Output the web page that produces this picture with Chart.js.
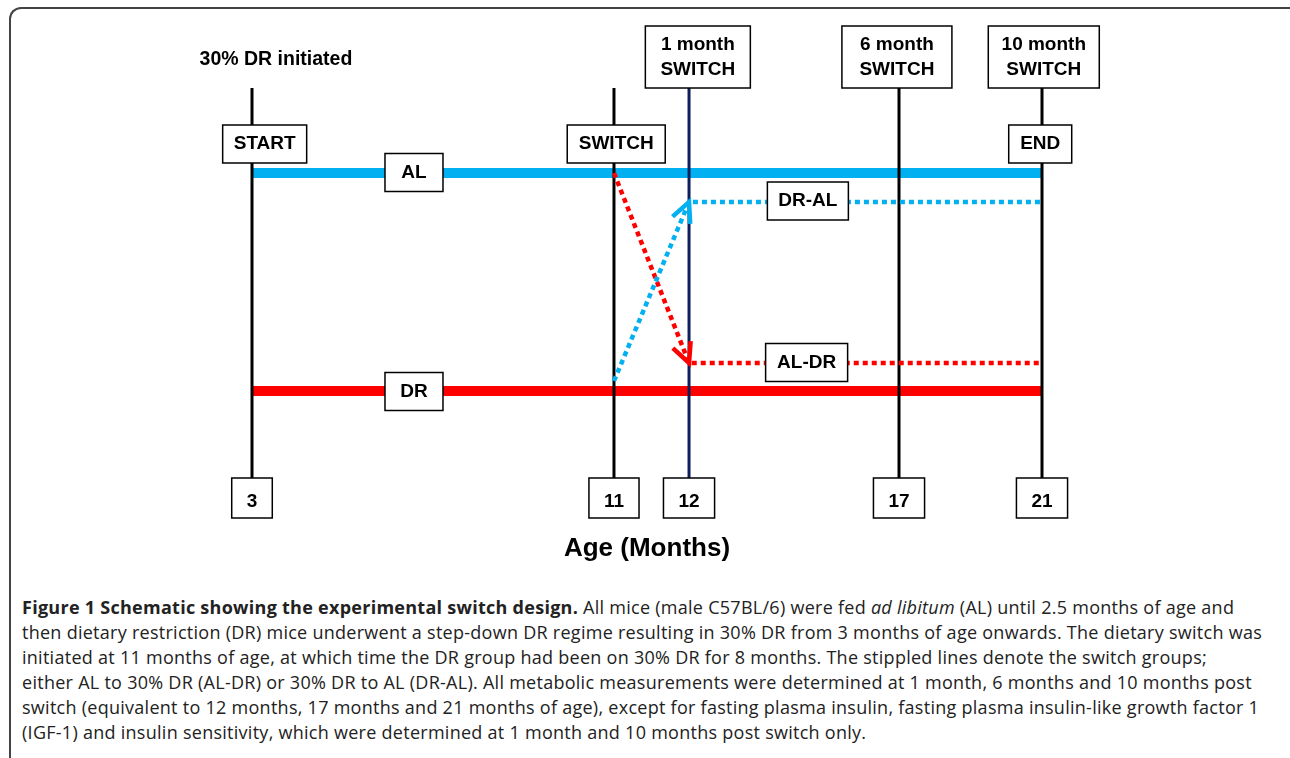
<!DOCTYPE html>
<html>
<head>
<meta charset="utf-8">
<script src="https://cdn.jsdelivr.net/npm/chart.js@4.4.1/dist/chart.umd.min.js"></script>
<style>
  body { margin:0; background:#fff; width:1290px; height:758px; overflow:hidden; position:relative; }
  #frame { position:absolute; left:9px; top:7px; width:1300px; height:800px; border-top:2px solid #444; border-left:2px solid #444; border-top-left-radius:12px; }
  #chart { position:absolute; left:0; top:0; }
  #caption { position:absolute; left:22px; top:595px; font-family:"Open Sans", sans-serif; font-size:18px; letter-spacing:0.27px; line-height:25px; color:#222; white-space:pre; }
</style>
</head>
<body>
<div id="frame"></div>
<canvas id="chart" width="1290" height="580"></canvas>
<div id="caption"><b>Figure 1 Schematic showing the experimental switch design.</b> All mice (male C57BL/6) were fed <i>ad libitum</i> (AL) until 2.5 months of age and
then dietary restriction (DR) mice underwent a step-down DR regime resulting in 30% DR from 3 months of age onwards. The dietary switch was
initiated at 11 months of age, at which time the DR group had been on 30% DR for 8 months. The stippled lines denote the switch groups;
either AL to 30% DR (AL-DR) or 30% DR to AL (DR-AL). All metabolic measurements were determined at 1 month, 6 months and 10 months post
switch (equivalent to 12 months, 17 months and 21 months of age), except for fasting plasma insulin, fasting plasma insulin-like growth factor 1
(IGF-1) and insulin sensitivity, which were determined at 1 month and 10 months post switch only.</div>
<script>
// milestone ages (months)
const ages = [3, 11, 12, 17, 21];
const ageLabels = ['3', '11', '12', '17', '21'];
const ageColors = ['#000', '#000', '#0c1f5a', '#000', '#000'];

// groups: ages and diagram level
const alAge = [3, 21];        const alLevel = [30.5, 30.5];
const drAge = [3, 21];        const drLevel = [8.7, 8.7];
const dralAge = [11, 12, 21]; const dralLevel = [9.7, 27.6, 27.6];
const aldrAge = [11, 12, 21]; const aldrLevel = [30.5, 11.5, 11.5];

// labelled boxes
const boxes = [
  { text: ['START'], x: 3.28, y: 33.4, w: 84 },
  { text: ['SWITCH'], x: 11.03, y: 33.4, w: 98 },
  { text: ['END'], x: 20.95, y: 33.4, w: 63 },
  { text: ['AL'], x: 6.58, y: 30.55, w: 58 },
  { text: ['DR'], x: 6.58, y: 8.65, w: 58 },
  { text: ['DR-AL'], x: 14.83, y: 27.7, w: 81 },
  { text: ['AL-DR'], x: 14.8, y: 11.55, w: 82 },
  { text: ['1 month', 'SWITCH'], x: 12.21, y: 42.1, w: 105 },
  { text: ['6 month', 'SWITCH'], x: 16.95, y: 42.1, w: 110 },
  { text: ['10 month', 'SWITCH'], x: 21.05, y: 42.1, w: 111 }
];

// schematic time axis: not to scale, piecewise between the milestones
class StageScale extends Chart.LinearScale {
  getPixelForValue(value) {
    const k = this.options.knots;
    let i = 0;
    while (i < k.length - 2 && value > k[i + 1][0]) i++;
    const f = k[i][1] + (value - k[i][0]) / (k[i + 1][0] - k[i][0]) * (k[i + 1][1] - k[i][1]);
    return this.getPixelForDecimal(f);
  }
}
StageScale.id = 'stage';
StageScale.defaults = Chart.LinearScale.defaults;
Chart.register(StageScale);

Chart.defaults.font.family = '"Liberation Sans", Arial, sans-serif';
const pts = (xs, ys) => xs.map((x, i) => ({ x: x, y: ys[i] }));

const datasets = [];
datasets.push({ data: pts(alAge, alLevel), borderColor: '#00b0f0', borderWidth: 10, order: 3 });
datasets.push({ data: pts(drAge, drLevel), borderColor: '#ff0000', borderWidth: 10, order: 3 });
ages.forEach((a, i) => {
  datasets.push({ data: pts([a, a], [0, 39]), borderColor: ageColors[i], borderWidth: 3, order: 2 });
});
datasets.push({ data: pts(dralAge, dralLevel), borderColor: '#00b0f0', borderWidth: 4.5, borderDash: [5, 4], order: 1, arrow: true });
datasets.push({ data: pts(aldrAge, aldrLevel), borderColor: '#ff0000', borderWidth: 4.5, borderDash: [5, 4], order: 1, arrow: true });
datasets.forEach(d => { d.showLine = true; d.pointRadius = 0; d.clip = false; d.borderCapStyle = 'butt'; d.tension = 0; });

const boxPlugin = {
  id: 'boxes',
  afterDatasetsDraw(chart) {
    const ctx = chart.ctx;
    chart.data.datasets.forEach((d, i) => {
      if (!d.arrow) return;
      const pt = chart.getDatasetMeta(i).data;
      const a = Math.atan2(pt[1].y - pt[0].y, pt[1].x - pt[0].x) + Math.PI;
      ctx.save();
      ctx.strokeStyle = d.borderColor; ctx.lineWidth = 4.5; ctx.lineCap = 'butt';
      ctx.beginPath();
      ctx.moveTo(pt[1].x + 22 * Math.cos(a - 0.45), pt[1].y + 22 * Math.sin(a - 0.45));
      ctx.lineTo(pt[1].x, pt[1].y);
      ctx.lineTo(pt[1].x + 22 * Math.cos(a + 0.45), pt[1].y + 22 * Math.sin(a + 0.45));
      ctx.stroke();
      ctx.restore();
    });
  },
  afterDraw(chart) {
    const { ctx, chartArea } = chart;
    const x = chart.scales.x, y = chart.scales.y;
    ctx.save();
    ctx.font = 'bold 19px "Liberation Sans", Arial, sans-serif';
    ctx.textAlign = 'center'; ctx.textBaseline = 'middle';
    ctx.lineWidth = 1.5; ctx.strokeStyle = '#000';
    // boxes round the axis tick labels
    x.ticks.forEach((t, i) => {
      const px = x.getPixelForTick(i);
      const w = ctx.measureText(ageLabels[i]).width + 30;
      ctx.strokeRect(px - w / 2, chartArea.bottom, w, 40);
    });
    boxes.forEach(b => {
      const px = x.getPixelForValue(b.x), py = y.getPixelForValue(b.y);
      const h = b.text.length > 1 ? 62 : 38;
      ctx.fillStyle = '#fff';
      ctx.fillRect(px - b.w / 2, py - h / 2, b.w, h);
      ctx.strokeRect(px - b.w / 2, py - h / 2, b.w, h);
      ctx.fillStyle = '#000';
      b.text.forEach((s, j) => ctx.fillText(s, px, py + (j - (b.text.length - 1) / 2) * 25));
    });
    ctx.font = 'bold 19.5px "Liberation Sans", Arial, sans-serif';
    ctx.fillText('30% DR initiated', x.getPixelForValue(3.53), y.getPixelForValue(41.8));
    ctx.restore();
  }
};

new Chart(document.getElementById('chart'), {
  type: 'scatter',
  data: { datasets: datasets },
  options: {
    responsive: false,
    animation: false,
    events: [],
    layout: { padding: { left: 252, right: 248, top: 88, bottom: 12 } },
    plugins: { legend: { display: false }, tooltip: { enabled: false } },
    scales: {
      x: {
        type: 'stage',
        min: 3, max: 21,
        knots: [[3, 0], [11, 0.4582], [12, 0.5532], [17, 0.8190], [21, 1]],
        afterBuildTicks: s => { s.ticks = ages.map(v => ({ value: v })); },
        afterFit: s => { s.height = 90; },
        grid: { display: false, drawTicks: false },
        border: { display: false },
        ticks: {
          autoSkip: false, maxRotation: 0, padding: 12, color: '#000',
          font: { size: 19, weight: 'bold' },
          callback: (v, i) => ageLabels[i]
        },
        title: { display: true, text: 'Age (Months)', color: '#000', font: { size: 26, weight: 'bold' }, padding: { top: 0, bottom: 4 } }
      },
      y: { display: false, min: 0, max: 39 }
    }
  },
  plugins: [boxPlugin]
});
</script>
</body>
</html>
